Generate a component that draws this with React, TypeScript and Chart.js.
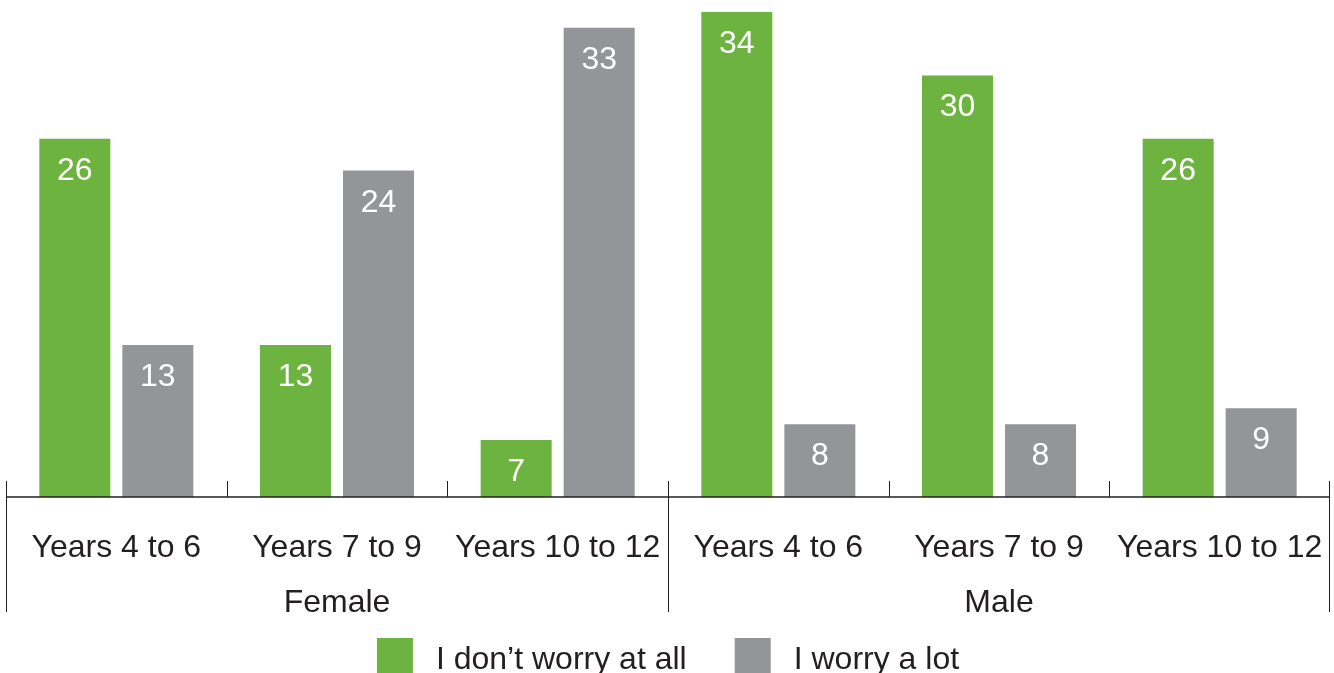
import React, { useEffect, useRef } from "react";
import { Chart, registerables } from "chart.js";

Chart.register(...registerables);

const categories = ["Years 4 to 6", "Years 7 to 9", "Years 10 to 12", "Years 4 to 6", "Years 7 to 9", "Years 10 to 12"];
const groups = ["Female", "Male"];
const seriesNames = ["I don\u2019t worry at all", "I worry a lot"];
const noWorry = [26, 13, 7, 34, 30, 26];
const worryLot = [13, 24, 33, 8, 8, 9];
const colors = ["#6db33f", "#939598"];

const FONT = "32px 'Liberation Sans', Arial, sans-serif";
const INK = "#231f20";

const customPlugin = {
  id: "customAxes",
  afterDatasetsDraw(chart: any) {
    const { ctx, chartArea } = chart;
    const xs = chart.scales.x;
    const left = chartArea.left;
    const right = chartArea.right;
    const bottom = chartArea.bottom;
    const n = categories.length;
    const cw = (right - left) / n;
    ctx.save();

    // value labels
    ctx.font = FONT;
    ctx.fillStyle = "#ffffff";
    ctx.textAlign = "center";
    ctx.textBaseline = "alphabetic";
    chart.data.datasets.forEach((ds: any, di: number) => {
      const meta = chart.getDatasetMeta(di);
      meta.data.forEach((bar: any, i: number) => {
        ctx.fillText(String(ds.data[i]), bar.x, bar.y + 41);
      });
    });

    // baseline
    ctx.strokeStyle = INK;
    ctx.lineWidth = 1.3;
    ctx.beginPath();
    ctx.moveTo(left, bottom);
    ctx.lineTo(right, bottom);
    ctx.stroke();

    // category ticks and group separators
    ctx.lineWidth = 1;
    for (let i = 0; i <= n; i++) {
      const x = Math.round(left + i * cw) + 0.5 - (i === n ? 1 : 0);
      const isGroupEdge = i % 3 === 0;
      ctx.beginPath();
      ctx.moveTo(x, bottom - 16);
      ctx.lineTo(x, isGroupEdge ? bottom + 115 : bottom);
      ctx.stroke();
    }

    // category labels
    ctx.fillStyle = INK;
    ctx.textAlign = "center";
    categories.forEach((c, i) => {
      ctx.fillText(c, xs.getPixelForValue(i), bottom + 60);
    });

    // group labels
    groups.forEach((g, gi) => {
      const gx = left + (gi * 3 + 1.5) * cw;
      ctx.fillText(g, gx, bottom + 115);
    });

    // legend
    const box = 36;
    const gapText = 23;
    const gapItem = 48;
    ctx.textAlign = "left";
    const widths = seriesNames.map((s) => ctx.measureText(s).width);
    const total = widths.reduce((a, w) => a + box + gapText + w, 0) + gapItem * (seriesNames.length - 1);
    let cx = (left + right) / 2 - total / 2;
    const legTop = bottom + 141;
    seriesNames.forEach((s, i) => {
      ctx.fillStyle = colors[i];
      ctx.fillRect(cx, legTop, box, box);
      ctx.fillStyle = INK;
      ctx.fillText(s, cx + box + gapText, bottom + 172);
      cx += box + gapText + widths[i] + gapItem;
    });

    ctx.restore();
  },
};

export default function App() {
  const ref = useRef<HTMLCanvasElement | null>(null);
  useEffect(() => {
    if (!ref.current) return;
    const chart = new Chart(ref.current, {
      type: "bar",
      data: {
        labels: categories,
        datasets: [
          { label: seriesNames[0], data: noWorry, backgroundColor: colors[0], borderWidth: 0 },
          { label: seriesNames[1], data: worryLot, backgroundColor: colors[1], borderWidth: 0 },
        ],
      },
      options: {
        responsive: false,
        animation: false,
        devicePixelRatio: 1,
        datasets: { bar: { categoryPercentage: 0.7525, barPercentage: 0.855 } },
        layout: { padding: { left: 6, right: 4, top: 0, bottom: 176 } },
        scales: {
          x: { display: false, offset: true },
          y: { display: false, min: 3.404, max: 34.757 },
        },
        plugins: {
          legend: { display: false },
          tooltip: { enabled: false },
        },
      },
      plugins: [customPlugin],
    });
    return () => chart.destroy();
  }, []);
  return (
    <div style={{ position: "fixed", left: 0, top: 0, width: 1334, height: 673, background: "#ffffff" }}>
      <canvas ref={ref} width={1334} height={673} style={{ width: 1334, height: 673, display: "block" }} />
    </div>
  );
}
